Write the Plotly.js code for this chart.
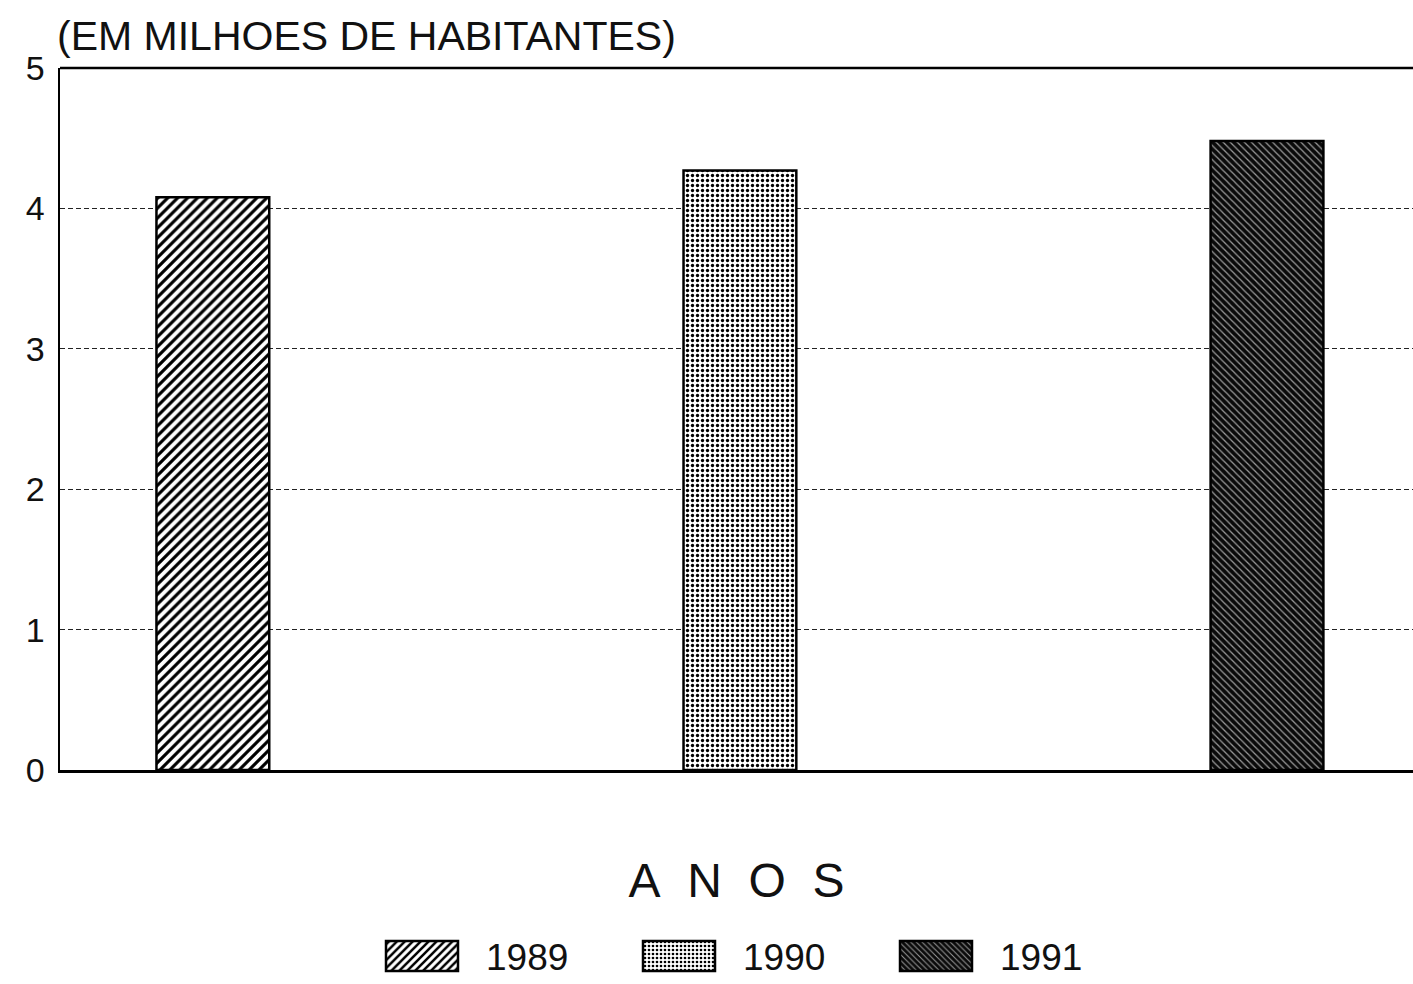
<!DOCTYPE html>
<html>
<head>
<meta charset="utf-8">
<script src="https://cdn.plot.ly/plotly-3.0.1.min.js"></script>
<style>html,body{margin:0;padding:0;background:#fff;}#chart{width:1413px;height:984px;}</style>
</head>
<body>
<div id="chart"></div>
<script>
const years = ['1989', '1990', '1991'];
const population = [4.08, 4.27, 4.48];
const yTicks = [0, 1, 2, 3, 4, 5];
const yTickLabels = ['0', '1', '2', '3', '4', '5'];

const patterns = [
  {shape: '/', fgcolor: '#000', bgcolor: '#fff', size: 7, solidity: 0.45},
  {shape: '.', fgcolor: '#000', bgcolor: '#fff', size: 5, solidity: 0.35},
  {shape: '\\', fgcolor: '#999', bgcolor: '#0a0a0a', size: 5, solidity: 0.25}
];

const traces = years.map((yr, i) => ({
  type: 'bar',
  name: yr,
  x: [i],
  y: [population[i]],
  width: 0.214,
  marker: {color: '#fff', line: {color: '#000', width: 2.5}, pattern: patterns[i]},
  hoverinfo: 'skip'
}));

const layout = {
  width: 1413, height: 984,
  margin: {l: 60, r: 0, t: 68, b: 214, autoexpand: false},
  paper_bgcolor: '#fff', plot_bgcolor: '#fff',
  font: {family: 'Liberation Sans, Arial, sans-serif', color: '#111'},
  barmode: 'overlay',
  showlegend: true,
  xaxis: {
    range: [-0.29, 2.277],
    showticklabels: false, ticks: '', showgrid: false, zeroline: false,
    showline: true, linecolor: '#000', linewidth: 2.5,
    title: {text: 'A&nbsp; N&nbsp; O&nbsp; S', font: {size: 48, color: '#111'}, standoff: 92}
  },
  yaxis: {
    range: [0, 5],
    tickvals: yTicks, ticktext: yTickLabels,
    tickfont: {size: 34, color: '#111'},
    ticks: '', ticklabelstandoff: 6,
    showgrid: true, gridcolor: '#222', gridwidth: 1.2, griddash: '5px,3px',
    zeroline: false, showline: true, linecolor: '#000', linewidth: 2.5
  },
  shapes: [{type: 'line', xref: 'paper', yref: 'paper', x0: 0, x1: 1, y0: 1, y1: 1, line: {color: '#000', width: 2.5}}],
  annotations: [{
    text: '(EM MILHOES DE HABITANTES)', xref: 'paper', yref: 'paper',
    x: -0.004, y: 1.01, xanchor: 'left', yanchor: 'bottom', showarrow: false,
    font: {size: 41, color: '#111'}
  }],
  legend: {
    orientation: 'h', x: 358 / 1413, xanchor: 'left', xref: 'container',
    y: 0.028, yref: 'container', yanchor: 'middle',
    font: {size: 37, color: '#111'}, itemwidth: 118,
    entrywidth: 124
  }
};

Plotly.newPlot('chart', traces, layout, {displayModeBar: false, staticPlot: true}).then(gd => {
  gd.querySelectorAll('.legendpoints path').forEach(p => {
    p.setAttribute('d', 'M36,15H-36V-15H36Z');
    p.style.strokeWidth = '2.5px';
    p.style.stroke = '#000';
  });
});
</script>
</body>
</html>
